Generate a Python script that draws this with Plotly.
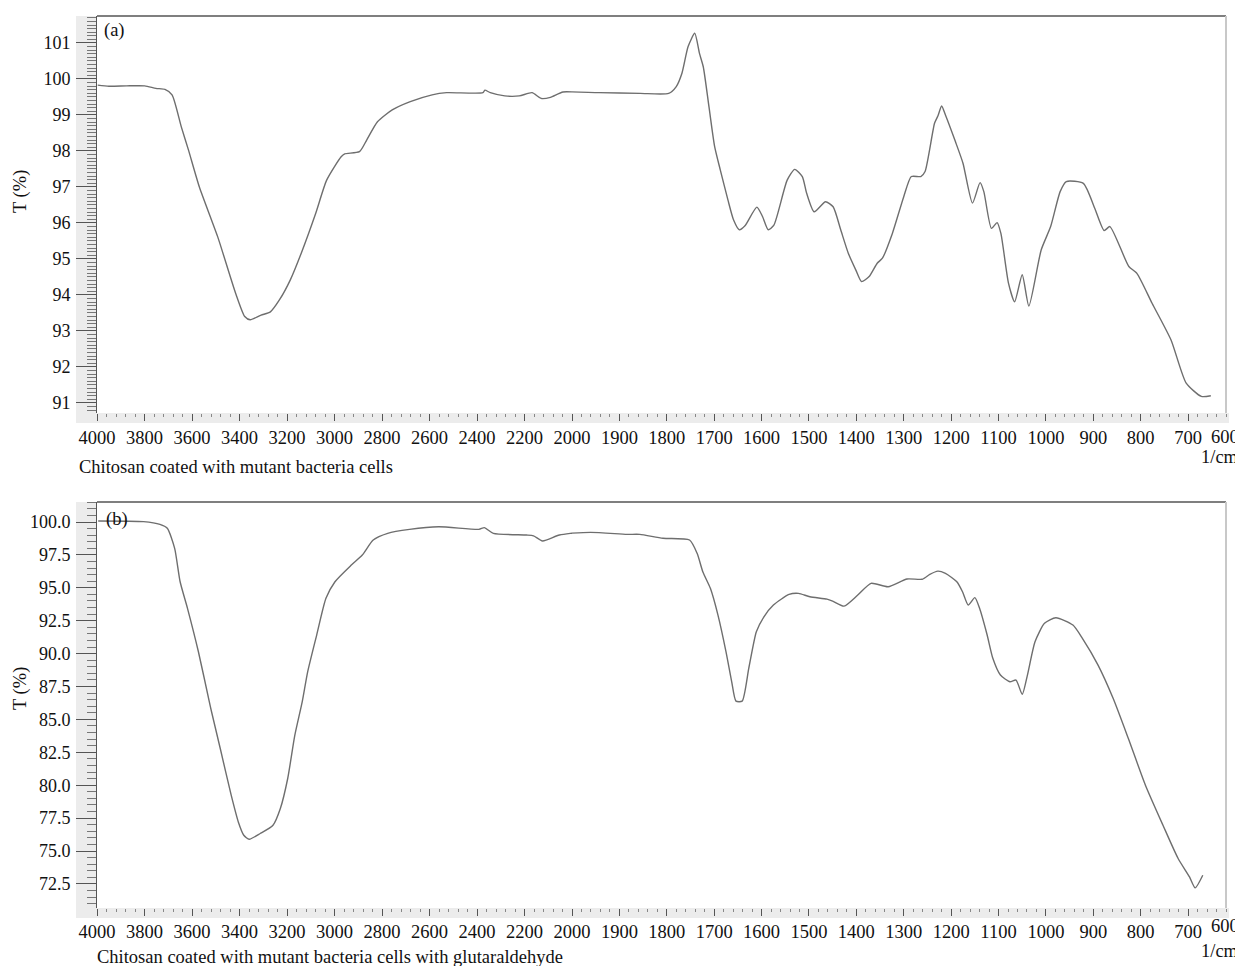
import plotly.graph_objects as go

# ---------------- data ----------------
wavenumber_a = [3997, 3950, 3875, 3799, 3752, 3714, 3684, 3645, 3615, 3569, 3492, 3416, 3378, 3355,
                3309, 3270, 3232, 3186, 3140, 3079, 3033, 2972, 2957, 2895, 2864, 2819, 2757, 2681,
                2589, 2528, 2375, 2367, 2344, 2283, 2222, 2168, 2130, 2091, 2038, 1943, 1856, 1796,
                1780, 1768, 1755, 1741, 1731, 1723, 1711, 1699, 1687, 1671, 1659, 1647, 1635, 1610,
                1598, 1586, 1574, 1546, 1530, 1514, 1505, 1489, 1465, 1449, 1433, 1417, 1401, 1389,
                1373, 1356, 1345, 1324, 1300, 1284, 1264, 1255, 1235, 1228, 1220, 1212, 1191, 1175,
                1155, 1139, 1131, 1115, 1103, 1095, 1079, 1066, 1050, 1036, 1010, 990, 970, 957,
                921, 897, 877, 865, 825, 808, 776, 736, 704, 672, 652]
transmittance_a = [99.83, 99.80, 99.81, 99.81, 99.74, 99.71, 99.56, 98.67, 98.03, 97.00, 95.62, 94.04, 93.40, 93.31,
                   93.44, 93.53, 93.86, 94.42, 95.16, 96.27, 97.19, 97.84, 97.92, 97.98, 98.31, 98.81, 99.14, 99.37,
                   99.56, 99.62, 99.62, 99.69, 99.62, 99.53, 99.53, 99.62, 99.46, 99.49, 99.64, 99.62, 99.60, 99.60,
                   99.79, 100.16, 100.90, 101.27, 100.71, 100.34, 99.23, 98.12, 97.47, 96.64, 96.08, 95.81, 95.92, 96.44,
                   96.18, 95.81, 95.94, 97.19, 97.49, 97.29, 96.83, 96.31, 96.59, 96.45, 95.81, 95.16, 94.69, 94.37,
                   94.51, 94.88, 95.02, 95.71, 96.73, 97.29, 97.29, 97.43, 98.77, 98.97, 99.25, 99.00, 98.26, 97.66,
                   96.55, 97.12, 96.87, 95.85, 96.01, 95.71, 94.33, 93.81, 94.56, 93.69, 95.25, 95.90, 96.87, 97.15,
                   97.10, 96.41, 95.79, 95.90, 94.79, 94.60, 93.77, 92.75, 91.55, 91.18, 91.20]

wavenumber_b = [3995, 3804, 3735, 3704, 3673, 3650, 3619, 3573, 3527, 3518, 3481, 3435, 3405, 3382, 3359,
                3313, 3259, 3228, 3197, 3167, 3136, 3113, 3075, 3036, 2998, 2929, 2883, 2837, 2776, 2684,
                2561, 2392, 2369, 2331, 2192, 2162, 2124, 2053, 1961, 1884, 1857, 1808, 1752, 1736, 1724,
                1708, 1692, 1675, 1663, 1654, 1641, 1627, 1611, 1595, 1575, 1542, 1522, 1498, 1462, 1450,
                1426, 1397, 1369, 1333, 1293, 1261, 1245, 1228, 1212, 1188, 1176, 1164, 1150, 1140, 1124,
                1112, 1096, 1076, 1063, 1050, 1039, 1023, 1003, 979, 943, 923, 890, 858, 826, 790, 753,
                721, 697, 685, 669]
transmittance_b = [100.08, 100.03, 99.82, 99.52, 98.00, 95.46, 93.44, 90.14, 86.33, 85.60, 82.79, 79.24, 77.21, 76.20, 75.89,
                   76.33, 76.96, 78.23, 80.51, 83.80, 86.33, 88.61, 91.41, 94.20, 95.46, 96.73, 97.49, 98.63, 99.14, 99.44,
                   99.64, 99.44, 99.57, 99.14, 99.01, 98.95, 98.56, 99.01, 99.21, 99.06, 99.06, 98.76, 98.63, 97.62, 96.22,
                   94.96, 92.93, 90.14, 87.86, 86.39, 86.39, 88.88, 91.66, 92.80, 93.69, 94.50, 94.58, 94.32, 94.14, 93.99,
                   93.61, 94.45, 95.34, 95.08, 95.67, 95.65, 96.02, 96.27, 96.10, 95.46, 94.70, 93.69, 94.25, 93.44, 91.41,
                   89.64, 88.37, 87.86, 87.99, 86.90, 88.37, 90.90, 92.30, 92.73, 92.17, 91.16, 89.13, 86.59, 83.55, 80.00, 76.96,
                   74.43, 73.03, 72.20, 73.16]

break_wn = 2000
left_ticks = [4000, 3800, 3600, 3400, 3200, 3000, 2800, 2600, 2400, 2200]
right_ticks = [2000, 1900, 1800, 1700, 1600, 1500, 1400, 1300, 1200, 1100, 1000, 900, 800, 700]
y_ticks_a = [91, 92, 93, 94, 95, 96, 97, 98, 99, 100, 101]
y_ticks_b = [72.5, 75.0, 77.5, 80.0, 82.5, 85.0, 87.5, 90.0, 92.5, 95.0, 97.5, 100.0]

caption_a = "Chitosan coated with mutant bacteria cells"
caption_b = "Chitosan coated with mutant bacteria cells with glutaraldehyde"

# ---------------- layout geometry (page pixels; page body has an 8px margin) ----------------
OFF = 8
W, H = 1243 - OFF, 966 - OFF
PL, PR, PT, PB = 97, 1226, 16, 908          # plot area in page pixels
ML, MR, MT, MB = PL - OFF, (W + OFF) - PR, PT - OFF, (H + OFF) - PB
PW = PR - PL
PH = PB - PT
SPLIT = 475 / PW


def px_x(px):
    return (px - PL) / PW


def px_y(py):
    return (PB - py) / PH


top_dom = [px_y(413), 1.0]
bot_dom = [0.0, px_y(502)]

FONT = "Liberation Serif, Times New Roman, serif"
LINE = dict(color="#6e6e6e", width=1.4, shape="spline", smoothing=0.6)


def split(wn, t):
    i = next(k for k, w in enumerate(wn) if w < break_wn)
    left = (wn[:i + 2], t[:i + 2])
    right = (wn[i - 2:], t[i - 2:])
    return left, right


fig = go.Figure()
(la, ra) = split(wavenumber_a, transmittance_a)
(lb, rb) = split(wavenumber_b, transmittance_b)
fig.add_trace(go.Scatter(x=la[0], y=la[1], xaxis="x", yaxis="y", mode="lines", line=LINE, showlegend=False))
fig.add_trace(go.Scatter(x=ra[0], y=ra[1], xaxis="x2", yaxis="y", mode="lines", line=LINE, showlegend=False))
fig.add_trace(go.Scatter(x=lb[0], y=lb[1], xaxis="x3", yaxis="y2", mode="lines", line=LINE, showlegend=False))
fig.add_trace(go.Scatter(x=rb[0], y=rb[1], xaxis="x4", yaxis="y2", mode="lines", line=LINE, showlegend=False))

xtickfont = dict(family=FONT, size=18.5, color="#111")
ytickfont = dict(family=FONT, size=18, color="#111")


def xaxis(domain, rng, ticks, minor_dtick, anchor, standoff):
    return dict(domain=domain, range=rng, anchor=anchor, tickmode="array", tickvals=ticks,
                ticktext=[str(v) for v in ticks], ticks="outside", ticklen=7, tickcolor="#555",
                tickwidth=1, showgrid=False, zeroline=False, showline=False, tickfont=xtickfont,
                ticklabelstandoff=standoff,
                minor=dict(tickmode="linear", tick0=4000, dtick=minor_dtick, ticks="outside",
                           ticklen=3, tickcolor="#888", tickwidth=1, showgrid=False))


def yaxis(domain, rng, ticks, minor_dtick, anchor, fmt):
    return dict(domain=domain, range=rng, anchor=anchor, tickmode="array", tickvals=ticks,
                ticktext=[fmt.format(v) for v in ticks], ticks="outside", ticklen=20, tickcolor="#555",
                tickwidth=1, showgrid=False, zeroline=False, showline=True, linecolor="#555", linewidth=1,
                tickfont=ytickfont, ticklabelstandoff=2,
                minor=dict(tickmode="linear", tick0=0, dtick=minor_dtick, ticks="outside",
                           ticklen=9, tickcolor="#777", tickwidth=1, showgrid=False))


fig.update_layout(
    width=W, height=H,
    margin=dict(l=ML, r=MR, t=MT, b=MB),
    paper_bgcolor="white", plot_bgcolor="white",
    xaxis=xaxis([0, SPLIT], [4000, 2000], left_ticks, 40, "y", 1),
    xaxis2=xaxis([SPLIT, 1], [2000, 620], right_ticks, 20, "y", 1),
    xaxis3=xaxis([0, SPLIT], [4000, 2000], left_ticks, 40, "y2", 0),
    xaxis4=xaxis([SPLIT, 1], [2000, 620], right_ticks, 20, "y2", 0),
    yaxis=yaxis(top_dom, [90.72, 101.75], y_ticks_a, 0.1, "x", "{:g}"),
    yaxis2=yaxis(bot_dom, [70.67, 101.52], y_ticks_b, 0.5, "x3", "{:.1f}"),
)

BAND = "#ececec"
shapes = []
for dom in (top_dom, bot_dom):
    yb = dom[0]
    yband = yb - 10 / PH
    shapes += [
        dict(type="rect", xref="paper", yref="paper", x0=px_x(76), x1=0, y0=yband, y1=dom[1],
             fillcolor=BAND, line=dict(width=0), layer="below"),
        dict(type="rect", xref="paper", yref="paper", x0=px_x(76), x1=px_x(1229), y0=yband, y1=yb,
             fillcolor=BAND, line=dict(width=0), layer="below"),
        dict(type="line", xref="paper", yref="paper", x0=0, x1=1, y0=dom[1], y1=dom[1],
             line=dict(color="#555", width=1.5), layer="above"),
        dict(type="line", xref="paper", yref="paper", x0=1, x1=1, y0=yb, y1=dom[1],
             line=dict(color="#c8c8c8", width=2), layer="above"),
    ]
fig.update_layout(shapes=shapes)

afont = dict(family=FONT, size=18.5, color="#111")
ann = [
    dict(text="(a)", x=px_x(102), y=px_y(31), xanchor="left", yanchor="middle"),
    dict(text="(b)", x=px_x(104), y=px_y(519), xanchor="left", yanchor="middle"),
    dict(text="T (%)", x=px_x(20), y=px_y(192), xanchor="center", yanchor="middle", textangle=-90),
    dict(text="T (%)", x=px_x(20), y=px_y(689), xanchor="center", yanchor="middle", textangle=-90),
    dict(text=caption_a, x=px_x(77), y=px_y(467), xanchor="left", yanchor="middle"),
    dict(text=caption_b, x=px_x(95), y=px_y(957), xanchor="left", yanchor="middle"),
    dict(text="1/cm", x=px_x(1241), y=px_y(457), xanchor="right", yanchor="middle"),
    dict(text="1/cm", x=px_x(1241), y=px_y(951), xanchor="right", yanchor="middle"),
    dict(text="600", x=px_x(1225), y=px_y(437), xanchor="center", yanchor="middle"),
    dict(text="600", x=px_x(1225), y=px_y(926), xanchor="center", yanchor="middle"),
]
for a in ann:
    a.update(xref="paper", yref="paper", showarrow=False, font=afont)
fig.update_layout(annotations=ann)

fig.write_html("out.html")
